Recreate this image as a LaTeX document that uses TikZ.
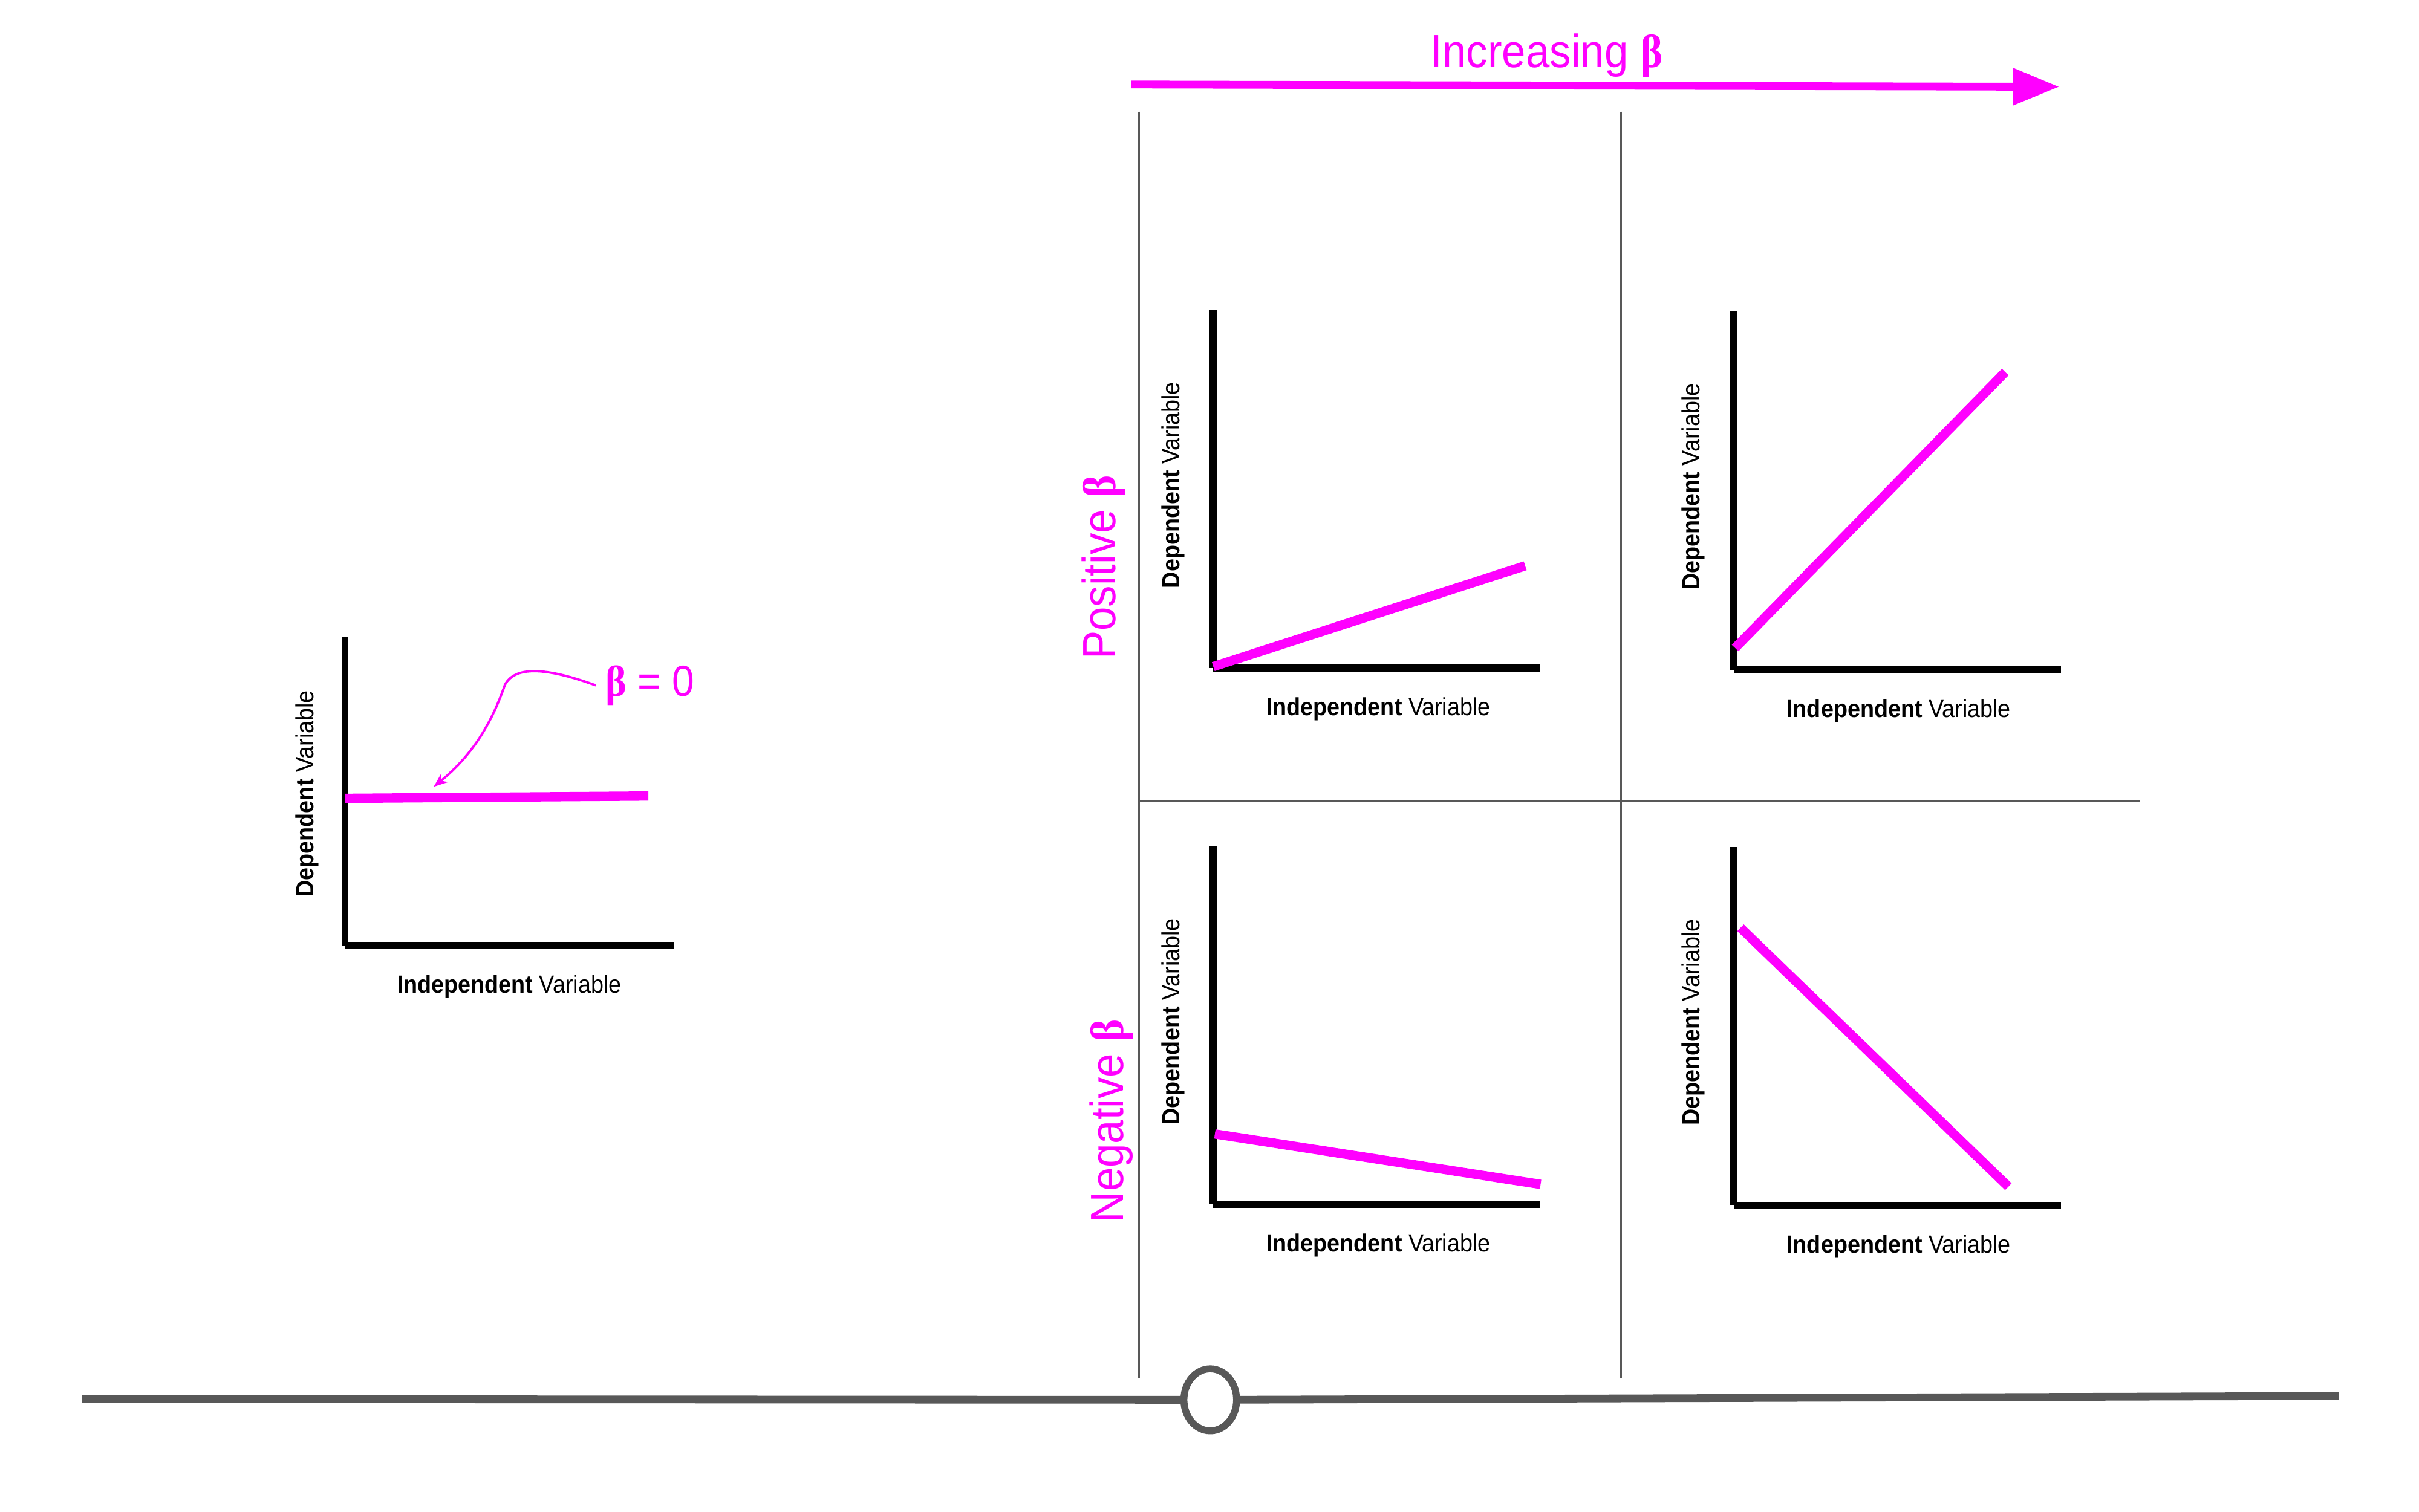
\documentclass[tikz,border=0pt]{standalone}
\usepackage{fontspec}
\setmainfont{Liberation Sans}[FakeStretch=0.92]
\newfontfamily\betafont{Liberation Serif}[FakeStretch=0.92]
\usetikzlibrary{arrows.meta, shapes.geometric}
\definecolor{hotpink}{RGB}{255,0,255}
\definecolor{rulegray}{RGB}{88,88,88}
\newcommand{\bet}{{\betafont\bfseries β}}
\tikzset{
x=0.9955pt, y=-1pt, % about one unit per pixel of the sketch, y pointing down
axisline/.style={line width=4.6pt, black}, % the two axes of every plot
trend/.style={line width=6pt, hotpink}, % the fitted line
divider/.style={line width=1.2pt, rulegray},
deplabel/.style={rotate=90, inner sep=0pt, font=\fontsize{16}{18}\selectfont},
indeplabel/.style={anchor=base, inner sep=0pt, font=\fontsize{16}{18}\selectfont},
betalabel/.style={hotpink, inner sep=0pt, font=\fontsize{30}{34}\selectfont},
}

\begin{document}
\begin{tikzpicture}
  \useasboundingbox (0,0) rectangle (1567.05,975);

  % increasing beta arrow
  \coordinate (arrowstart) at (733,54.5);
  \coordinate (arrowtip) at (1334,56);
  \draw[hotpink, line width=5pt, -{Triangle[length=30pt, width=23pt]}] (arrowstart) -- (arrowtip);
  \node[betalabel, anchor=base] (increasing) at (1002,43.6) {Increasing \bet};

  % panel dividers
  \coordinate (v1top) at (738,72);
  \coordinate (v1bot) at (738,889);
  \coordinate (v2top) at (1050,72);
  \coordinate (v2bot) at (1050,889);
  \coordinate (hleft) at (738,516.5);
  \coordinate (hright) at (1386,516.5);
  \draw[divider] (v1top) -- (v1bot) (v2top) -- (v2bot) (hleft) -- (hright);

  \node[betalabel, rotate=90, anchor=base] (positive) at (722.6,366) {Positive \bet};
  \node[betalabel, rotate=90, anchor=base] (negative) at (727.5,723) {Negative \bet};

  % zero slope plot
  \begin{scope}[shift={(223.5,610)}]
    \coordinate (o0) at (0,0);
    \coordinate (top0) at (0,-199);
    \coordinate (end0) at (213,0);
    \draw[axisline] (top0) -- (o0);
    \draw[axisline] (o0) -- (end0);
    \coordinate (a0) at (0,-95);
    \coordinate (b0) at (196.5,-96.5);
    \draw[trend] (a0) -- (b0);
    \node[deplabel] (dep0) at (-24.5,-98) {\textbf{Dependent} Variable};
    \node[indeplabel] (indep0) at (106.5,30.5) {\textbf{Independent} Variable};
  \end{scope}
  \node[betalabel, anchor=base west, inner xsep=6pt, font=\fontsize{28}{32}\selectfont] (zero) at (386,449) {\bet{} = 0};
  \coordinate (zerotip) at (281,507.5);
  \draw[hotpink, line width=1.5pt, -{Stealth[length=9pt, width=7pt]}] (zero.west) .. controls (358,432) and (334,428) .. (327,442) .. controls (318,468) and (305,488) .. (zerotip);

  % small positive beta
  \begin{scope}[shift={(786,431)}]
    \coordinate (o1) at (0,0);
    \coordinate (top1) at (0,-231);
    \coordinate (end1) at (212,0);
    \draw[axisline] (top1) -- (o1);
    \draw[axisline] (o1) -- (end1);
    \coordinate (a1) at (0,-1);
    \coordinate (b1) at (202,-66);
    \draw[trend] (a1) -- (b1);
    \node[deplabel] (dep1) at (-26,-118) {\textbf{Dependent} Variable};
    \node[indeplabel] (indep1) at (107,30.6) {\textbf{Independent} Variable};
  \end{scope}

  % large positive beta
  \begin{scope}[shift={(1123,432)}]
    \coordinate (o2) at (0,0);
    \coordinate (top2) at (0,-231);
    \coordinate (end2) at (212,0);
    \draw[axisline] (top2) -- (o2);
    \draw[axisline] (o2) -- (end2);
    \coordinate (a2) at (1,-14);
    \coordinate (b2) at (176,-192);
    \draw[trend] (a2) -- (b2);
    \node[deplabel] (dep2) at (-26,-118) {\textbf{Dependent} Variable};
    \node[indeplabel] (indep2) at (107,30.6) {\textbf{Independent} Variable};
  \end{scope}

  % small negative beta
  \begin{scope}[shift={(786,777)}]
    \coordinate (o3) at (0,0);
    \coordinate (top3) at (0,-231);
    \coordinate (end3) at (212,0);
    \draw[axisline] (top3) -- (o3);
    \draw[axisline] (o3) -- (end3);
    \coordinate (a3) at (1,-45.5);
    \coordinate (b3) at (212,-13);
    \draw[trend] (a3) -- (b3);
    \node[deplabel] (dep3) at (-26,-118) {\textbf{Dependent} Variable};
    \node[indeplabel] (indep3) at (107,30.6) {\textbf{Independent} Variable};
  \end{scope}

  % large negative beta
  \begin{scope}[shift={(1123,777.5)}]
    \coordinate (o4) at (0,0);
    \coordinate (top4) at (0,-231);
    \coordinate (end4) at (212,0);
    \draw[axisline] (top4) -- (o4);
    \draw[axisline] (o4) -- (end4);
    \coordinate (a4) at (4.5,-179);
    \coordinate (b4) at (178,-12);
    \draw[trend] (a4) -- (b4);
    \node[deplabel] (dep4) at (-26,-118) {\textbf{Dependent} Variable};
    \node[indeplabel] (indep4) at (107,30.6) {\textbf{Independent} Variable};
  \end{scope}

  % slider along the bottom
  \node[draw=rulegray, line width=4.5pt, ellipse, minimum width=34pt, minimum height=40pt, inner sep=0pt] (knob) at (784,903) {};
  \coordinate (slideleft) at (53,902.5);
  \coordinate (slideright) at (1515,900.5);
  \draw[rulegray, line width=5pt] (slideleft) -- (knob) (knob) -- (slideright);
\end{tikzpicture}
\end{document}
